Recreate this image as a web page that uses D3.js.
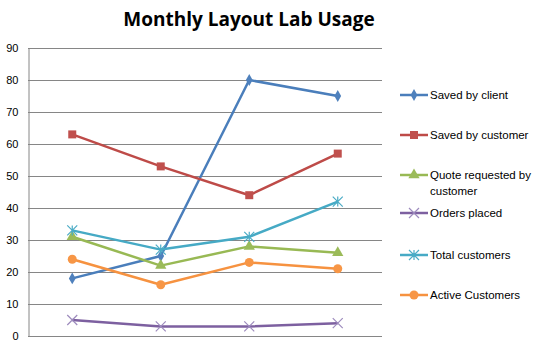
<!DOCTYPE html>
<html><head><meta charset="utf-8">
<script src="https://cdn.jsdelivr.net/npm/d3@7"></script>
<style>body{margin:0;background:#fff}svg{display:block}</style>
</head><body>
<svg id="c" width="545" height="344"></svg>
<script>
const categories = ["1", "2", "3", "4"];
const savedByClient = [18, 25, 80, 75];
const savedByCustomer = [63, 53, 44, 57];
const quoteRequested = [31, 22, 28, 26];
const ordersPlaced = [5, 3, 3, 4];
const totalCustomers = [33, 27, 31, 42];
const activeCustomers = [24, 16, 23, 21];
const yTicks = [0, 10, 20, 30, 40, 50, 60, 70, 80, 90];
const seriesNames = ["Saved by client", "Saved by customer", "Quote requested by customer", "Orders placed", "Total customers", "Active Customers"];

const series = [
  {name: seriesNames[0], values: savedByClient, color: "#4A7EBB", mcolor: "#4F81BD", marker: "diamond"},
  {name: seriesNames[1], values: savedByCustomer, color: "#BE4B48", mcolor: "#C0504D", marker: "square"},
  {name: seriesNames[2], values: quoteRequested, color: "#98B954", mcolor: "#9BBB59", marker: "triangle"},
  {name: seriesNames[3], values: ordersPlaced, color: "#7D60A0", mcolor: "#8064A2", marker: "x"},
  {name: seriesNames[4], values: totalCustomers, color: "#46AAC5", mcolor: "#4BACC6", marker: "star"},
  {name: seriesNames[5], values: activeCustomers, color: "#F69240", mcolor: "#F79646", marker: "circle"}
];

const svg = d3.select("#c");
const L = 28, R = 382, T = 48, B = 336;
const x = d3.scaleBand().domain(categories).range([L, R]);
const y = d3.scaleLinear().domain([0, 90]).range([B, T]);
const font = "'Liberation Sans', Arial, sans-serif";

svg.append("text").attr("x", 249).attr("y", 26).attr("text-anchor", "middle")
  .attr("font-family", "'Open Sans', sans-serif").attr("font-weight", "bold").attr("font-size", 19)
  .text("Monthly Layout Lab Usage");

// gridlines
svg.append("g").selectAll("line").data(yTicks.filter(d => d > 0)).join("line")
  .attr("x1", L).attr("x2", R).attr("y1", d => y(d) + 0.5).attr("y2", d => y(d) + 0.5)
  .attr("stroke", "#868686").attr("stroke-width", 1);

const yAxis = svg.append("g").attr("transform", `translate(${L + 0.5},0)`)
  .call(d3.axisLeft(y).tickValues(yTicks).tickSize(0).tickPadding(10));
yAxis.select(".domain").attr("stroke", "#868686");
yAxis.selectAll("text").attr("font-family", font).attr("font-size", 11).attr("fill", "#000");

svg.append("line").attr("x1", L).attr("x2", R).attr("y1", B + 0.5).attr("y2", B + 0.5).attr("stroke", "#868686");

function drawMarker(g, type, color, cx, cy, s) {
  if (type === "diamond") {
    g.append("path").attr("d", d3.symbol(d3.symbolDiamond, 40)()).attr("transform", `translate(${cx},${cy})`).attr("fill", color);
  } else if (type === "square") {
    g.append("rect").attr("x", cx - 4).attr("y", cy - 4).attr("width", 8).attr("height", 8).attr("fill", color);
  } else if (type === "triangle") {
    g.append("path").attr("d", d3.symbol(d3.symbolTriangle, 55)()).attr("transform", `translate(${cx},${cy})`).attr("fill", color);
  } else if (type === "circle") {
    g.append("circle").attr("cx", cx).attr("cy", cy).attr("r", 4.5).attr("fill", color);
  } else if (type === "x") {
    g.append("path").attr("d", `M${cx-5},${cy-5}L${cx+5},${cy+5}M${cx-5},${cy+5}L${cx+5},${cy-5}`).attr("stroke", "#9d8bbd").attr("stroke-width", 1.2);
  } else if (type === "star") {
    g.append("path").attr("d", `M${cx-5},${cy-5}L${cx+5},${cy+5}M${cx-5},${cy+5}L${cx+5},${cy-5}M${cx},${cy-5}L${cx},${cy+5}`).attr("stroke", color).attr("stroke-width", 1.2);
  }
}

const line = d3.line().x((d, i) => x(categories[i]) + x.bandwidth() / 2).y(d => y(d));
series.forEach(s => {
  const g = svg.append("g");
  g.append("path").attr("d", line(s.values)).attr("fill", "none").attr("stroke", s.color).attr("stroke-width", 2.5).attr("stroke-linejoin", "round");
  s.values.forEach((v, i) => drawMarker(g, s.marker, s.mcolor, x(categories[i]) + x.bandwidth() / 2, y(v)));
});

// legend
const legY = [95, 135, 175, 213, 255, 295];
series.forEach((s, i) => {
  const g = svg.append("g");
  const ly = legY[i];
  g.append("line").attr("x1", 400).attr("x2", 428).attr("y1", ly).attr("y2", ly).attr("stroke", s.color).attr("stroke-width", 2.5);
  drawMarker(g, s.marker, s.mcolor, 414, ly);
  const t = g.append("text").attr("x", 430).attr("y", ly + 4).attr("font-family", font).attr("font-size", 11.5).attr("fill", "#000");
  if (i === 2) {
    t.append("tspan").attr("x", 430).text("Quote requested by");
    t.append("tspan").attr("x", 430).attr("dy", 16).text("customer");
  } else t.text(s.name);
});
</script>
</body></html>
